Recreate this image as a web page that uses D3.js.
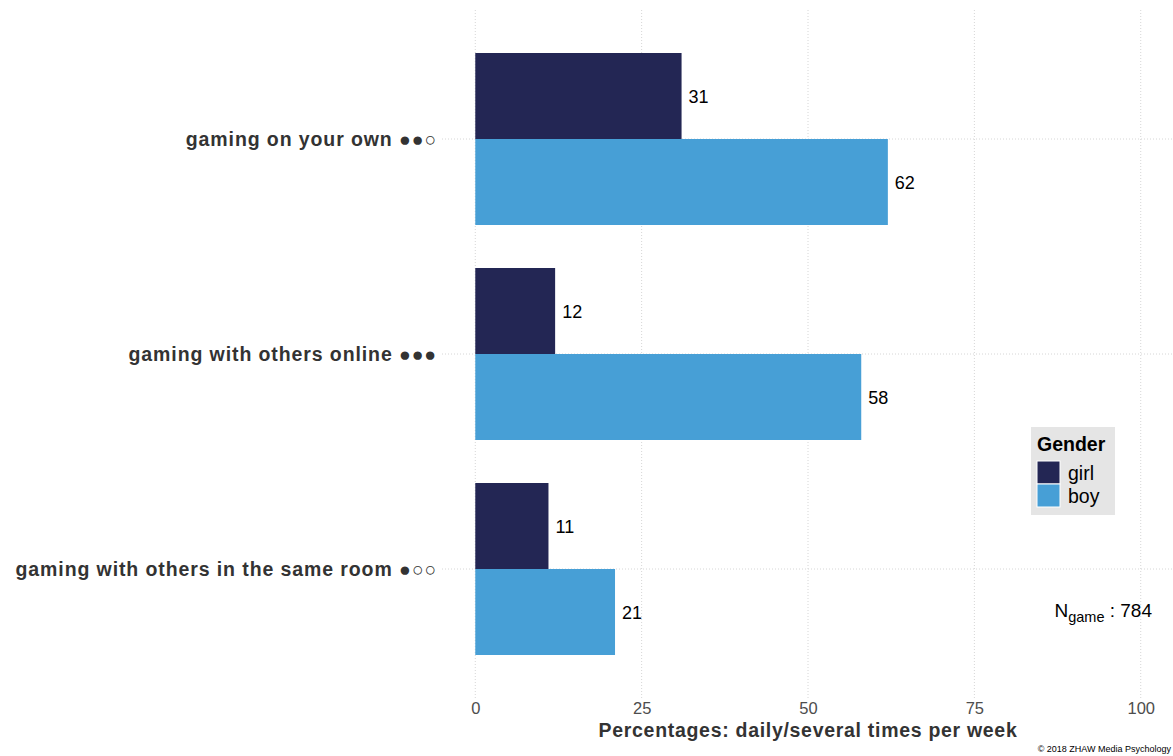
<!DOCTYPE html>
<html>
<head>
<meta charset="utf-8">
<script src="https://cdn.jsdelivr.net/npm/d3@7"></script>
<style>
  html, body { margin: 0; padding: 0; background: #fff; }
  svg { display: block; font-family: "Liberation Sans", Arial, Helvetica, sans-serif; }
</style>
</head>
<body>
<svg id="chart" width="1173" height="756"></svg>
<script>
// Gaming activities, share of respondents doing it daily / several times per week
const categories = [
  "gaming on your own \u25CF\u25CF\u25CB",
  "gaming with others online \u25CF\u25CF\u25CF",
  "gaming with others in the same room \u25CF\u25CB\u25CB"
];
const genders = ["girl", "boy"];
const girlValues = [31, 12, 11];
const boyValues = [62, 58, 21];
const xTicks = [0, 25, 50, 75, 100];
const colors = { girl: "#232654", boy: "#479fd6" };
const sampleSize = 784;

const svg = d3.select("#chart");

// panel area
const panel = { left: 442, right: 1174, top: 10, bottom: 698 };

const x = d3.scaleLinear().domain([-5, 105]).range([panel.left, panel.right]);
const y = d3.scalePoint().domain(categories).range([139, 569]);
const band = (569 - 139) / 2;            // spacing between categories
const groupH = band * 0.8;
const sub = d3.scaleBand().domain(genders).range([-groupH / 2, groupH / 2]).padding(0);

const gridColor = "#d6d6d6";

// gridlines
const grid = svg.append("g");
grid.selectAll("line.v").data(xTicks).join("line")
  .attr("x1", d => x(d)).attr("x2", d => x(d))
  .attr("y1", panel.top).attr("y2", panel.bottom)
  .attr("stroke", gridColor).attr("stroke-width", 1)
  .attr("stroke-dasharray", "1,2");
grid.selectAll("line.h").data(categories).join("line")
  .attr("x1", panel.left).attr("x2", panel.right)
  .attr("y1", d => y(d)).attr("y2", d => y(d))
  .attr("stroke", gridColor).attr("stroke-width", 1)
  .attr("stroke-dasharray", "1,2");

// bars
const rows = [];
categories.forEach((c, i) => {
  rows.push({ cat: c, gender: "girl", value: girlValues[i] });
  rows.push({ cat: c, gender: "boy", value: boyValues[i] });
});

svg.append("g").selectAll("rect").data(rows).join("rect")
  .attr("x", x(0))
  .attr("y", d => y(d.cat) + sub(d.gender))
  .attr("width", d => x(d.value) - x(0))
  .attr("height", sub.bandwidth())
  .attr("fill", d => colors[d.gender]);

// value labels
svg.append("g").selectAll("text").data(rows).join("text")
  .attr("x", d => x(d.value) + 7)
  .attr("y", d => y(d.cat) + sub(d.gender) + sub.bandwidth() / 2)
  .attr("dy", "0.4em")
  .attr("font-size", 18)
  .attr("fill", "#000")
  .text(d => d.value);

// category axis labels
svg.append("g").selectAll("text").data(categories).join("text")
  .attr("x", 437)
  .attr("y", d => y(d))
  .attr("dy", "0.36em")
  .attr("text-anchor", "end")
  .attr("font-size", 19.5)
  .attr("letter-spacing", 0.9)
  .attr("font-weight", "bold")
  .attr("fill", "#333")
  .text(d => d);

// x axis tick labels
const xAxis = d3.axisBottom(x).tickValues(xTicks).tickSize(0).tickPadding(0);
const xg = svg.append("g").attr("transform", `translate(0, 702)`).call(xAxis);
xg.select(".domain").remove();
xg.selectAll("text")
  .attr("font-size", 16.5)
  .attr("fill", "#4d4d4d")
  .attr("font-family", "Liberation Sans, Arial, sans-serif")
  .attr("dy", "0.71em");

// x axis title
svg.append("text")
  .attr("x", x(50))
  .attr("y", 737)
  .attr("text-anchor", "middle")
  .attr("font-size", 19.5)
  .attr("letter-spacing", 0.7)
  .attr("font-weight", "bold")
  .attr("fill", "#333")
  .text("Percentages: daily/several times per week");

// legend
const lg = svg.append("g").attr("transform", "translate(1031, 427)");
lg.append("rect").attr("width", 84).attr("height", 88).attr("fill", "#e5e5e5");
lg.append("text").attr("x", 6).attr("y", 24)
  .attr("font-size", 19.5).attr("font-weight", "bold").attr("fill", "#000")
  .text("Gender");
genders.forEach((g, i) => {
  lg.append("rect")
    .attr("x", 6).attr("y", 34 + i * 23)
    .attr("width", 23).attr("height", 23)
    .attr("fill", colors[g]).attr("stroke", "#fff").attr("stroke-width", 1);
  lg.append("text")
    .attr("x", 37).attr("y", 34 + i * 23 + 11.5)
    .attr("dy", "0.36em")
    .attr("font-size", 19.5).attr("fill", "#000")
    .text(g);
});

// sample size annotation
const ann = svg.append("text")
  .attr("x", 1152).attr("y", 617)
  .attr("text-anchor", "end")
  .attr("font-size", 19).attr("fill", "#000");
ann.append("tspan").text("N");
ann.append("tspan").attr("font-size", 14.5).attr("dy", 5).text("game");
ann.append("tspan").attr("dy", -5).text(" : " + sampleSize);

// caption
svg.append("text")
  .attr("x", 1171).attr("y", 752)
  .attr("text-anchor", "end")
  .attr("font-size", 9).attr("fill", "#000")
  .text("\u00A9 2018 ZHAW Media Psychology");
</script>
</body>
</html>
